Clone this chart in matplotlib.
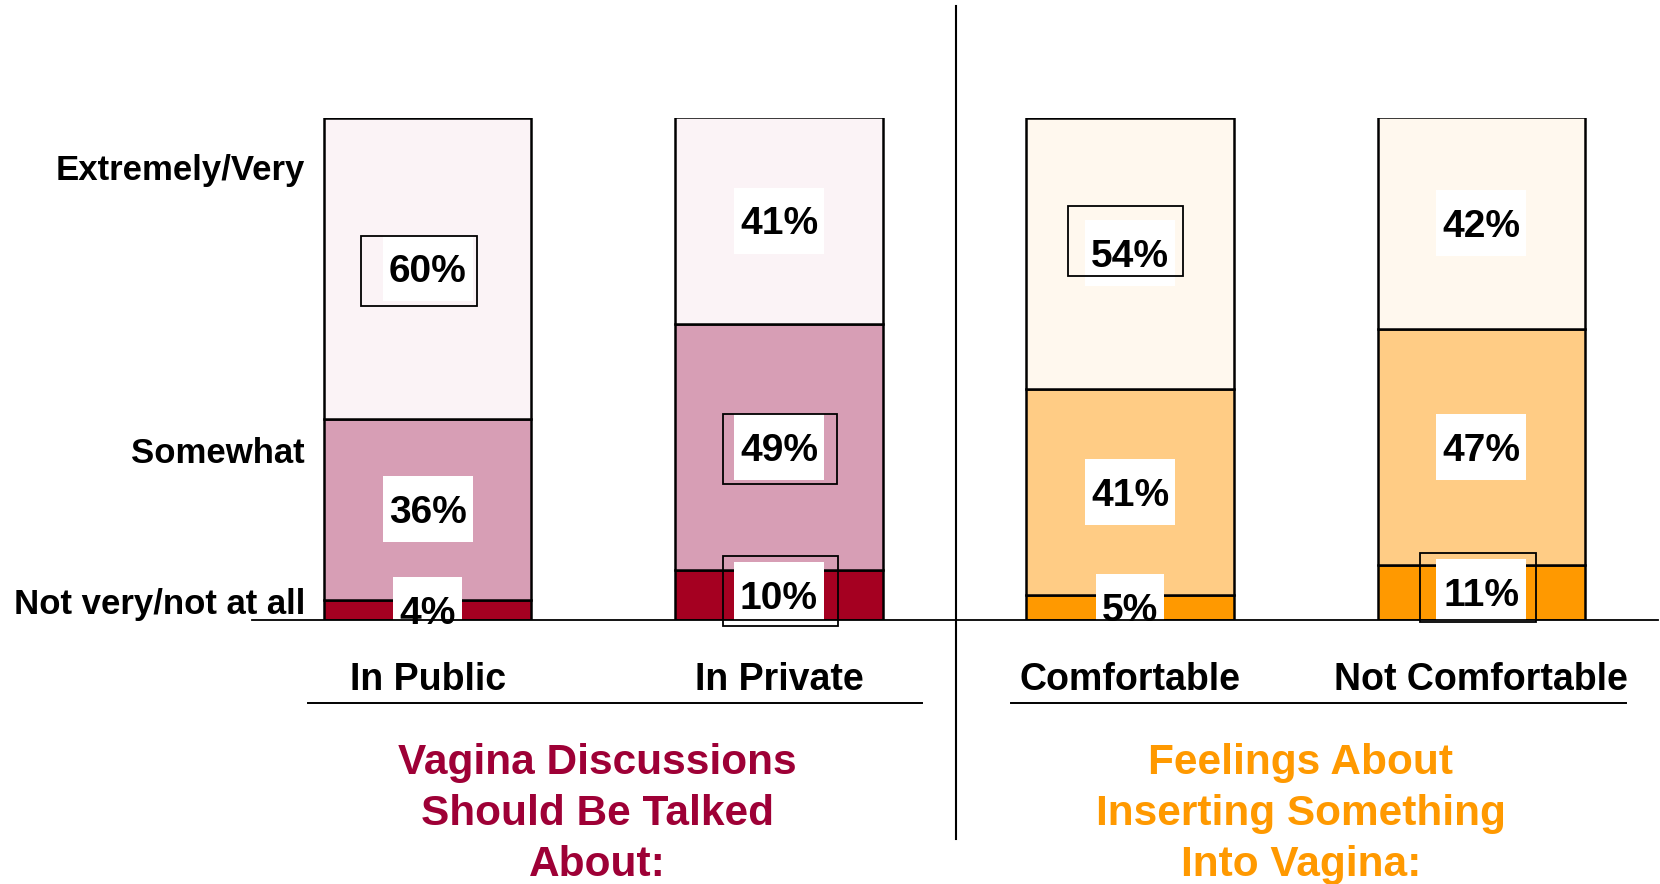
import matplotlib
matplotlib.use("Agg")
import matplotlib.pyplot as plt
from matplotlib.patches import Rectangle
from matplotlib.transforms import ScaledTranslation

plt.rcParams['font.family'] = ['Liberation Sans', 'DejaVu Sans']
plt.rcParams['font.weight'] = 'bold'

# ---------------- data ----------------
categories = ["In Public", "In Private", "Comfortable", "Not Comfortable"]
levels = ["Not very/not at all", "Somewhat", "Extremely/Very"]
not_very = [4, 10, 5, 11]
somewhat = [36, 49, 41, 47]
extremely = [60, 41, 54, 42]
group_titles = [["Vagina Discussions", "Should Be Talked", "About:"],
                ["Feelings About", "Inserting Something", "Into Vagina:"]]
level_label_y = [3.7, 33.7, 90.0]

# ---------------- style ----------------
pink = ['#A50021', '#D79EB5', '#FBF3F6']
orange = ['#FF9900', '#FFCC85', '#FFF8EE']
bar_colors = [pink, pink, orange, orange]
title_colors = ['#9E0036', '#FF9900']
# outlined label boxes: (bar, segment, x0_px, y0_px, w_px, h_px) relative to label centre
outline_boxes = [(0, 2, -67, -38, 116, 70),
                 (1, 1, -56, -37, 114, 70),
                 (1, 0, -56, -31, 115, 70),
                 (2, 2, -62, -23, 115, 70),
                 (3, 0, -61, -30, 116, 69)]

W, H = 1660, 884
fig = plt.figure(figsize=(W / 100, H / 100), dpi=100)
ax = fig.add_axes([252 / W, (H - 620) / H, (1658 - 252) / W, 502.5 / H])
ax.set_xlim(-0.501, 3.504)
ax.set_ylim(0, 100)
for s in ['top', 'right', 'left']:
    ax.spines[s].set_visible(False)
ax.spines['bottom'].set_linewidth(1.3)
ax.spines['bottom'].set_zorder(7)
ax.set_xticks([])
ax.set_yticks([])

x = list(range(len(categories)))
width = 0.59
segments = [not_very, somewhat, extremely]
bottoms = [0] * len(x)
mids = []
for si, seg in enumerate(segments):
    cols = [bar_colors[i][si] for i in x]
    ax.bar(x, seg, width, bottom=bottoms, color=cols, edgecolor='black',
           linewidth=1.8, zorder=2)
    mids.append([b + v / 2 for b, v in zip(bottoms, seg)])
    bottoms = [b + v for b, v in zip(bottoms, seg)]


def px_trans(xd, yd):
    return fig.dpi_scale_trans + ScaledTranslation(xd, yd, ax.transData)


fs_pct = 28
for si, seg in enumerate(segments):
    for i in x:
        txt = f"{seg[i]}%"
        wpx = (len(txt) - 1) * 21.5 + 34.4 + 13
        ax.add_patch(Rectangle((-wpx / 200, -0.33), wpx / 100, 0.66,
                               transform=px_trans(i, mids[si][i]),
                               facecolor='white', edgecolor='none',
                               zorder=4, clip_on=False))
        ax.annotate(txt, xy=(i, mids[si][i]), xytext=(0, -0.358 * fs_pct),
                    textcoords='offset points', ha='center', va='baseline',
                    fontsize=fs_pct, fontweight='bold', zorder=6,
                    annotation_clip=False)

for (bi, si, x0, y0, w, h) in outline_boxes:
    ax.add_patch(Rectangle((x0 / 100, y0 / 100), w / 100, h / 100,
                           transform=px_trans(bi, mids[si][bi]),
                           facecolor='none', edgecolor='black', linewidth=1.3,
                           zorder=5, clip_on=False))

# level labels on the left
for lab, yv in zip(levels, level_label_y):
    ax.annotate(lab, xy=(-0.35, yv), xytext=(0, -0.358 * 25),
                textcoords='offset points', ha='right', va='baseline',
                fontsize=25, fontweight='bold', annotation_clip=False)

# category labels
for i, c in enumerate(categories):
    ax.text(i, -11.24, c, ha='center', va='center_baseline', fontsize=27,
            fontweight='bold', clip_on=False)

# underlines below category labels
ax.plot([-0.342, 1.407], [-16.5, -16.5], color='black', lw=1.4, clip_on=False)
ax.plot([1.661, 3.413], [-16.5, -16.5], color='black', lw=1.4, clip_on=False)

# divider
ax.plot([1.504, 1.504], [-43.6, 122.2], color='black', lw=1.5, clip_on=False)

# group titles
title_x = [0.483, 2.487]
for gi, lines in enumerate(group_titles):
    for li, line in enumerate(lines):
        ax.text(title_x[gi], -30.6 - 10.15 * li, line, ha='center',
                va='baseline', fontsize=30.5, fontweight='bold',
                color=title_colors[gi], clip_on=False)

fig.savefig("out.png", dpi=100)
